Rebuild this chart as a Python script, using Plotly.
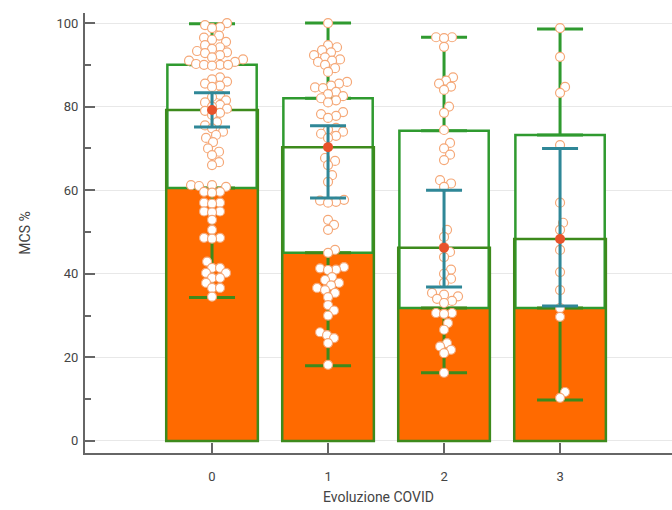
import plotly.graph_objects as go

categories = [0, 1, 2, 3]
tick_labels = ["0", "1", "2", "3"]

g0 = [100, 99.5, 99, 98.8, 97, 96.5, 96, 95.5, 94.7, 94.2, 93.8, 93.3, 93, 92.8, 92.3, 91.8, 91.3,
      91, 90.7, 90.2, 90, 90, 89.8, 90, 87, 86.5, 86, 85.5, 85, 84.7, 82.8, 82.3, 81.5, 81, 80.4,
      80, 79.5, 79, 78.5, 78, 76.3, 75.5, 74.8, 74, 73.2, 72.5, 71.5, 70, 69.2, 68.4, 66.7, 66,
      61.2, 61.2, 61, 60.8, 59.6, 59.6, 59.4, 57, 57, 56.8, 54.9, 54.9, 54.7, 52.9, 50.5, 48.6,
      48.6, 48.4, 42.9, 41.4, 41.4, 40.2, 40.2, 39, 39, 37.8, 36.6, 36.6, 34.5]
g1 = [100, 94.7, 94.2, 93.5, 93, 92.3, 91.8, 91.3, 91, 90.7, 90, 89.2, 88.3, 85.9, 85.5, 85, 84.6,
      84.4, 83.5, 83, 82.5, 82, 81.5, 81, 78.7, 78.2, 77.8, 77.3, 74.9, 74.5, 74, 73.5, 73, 72.5,
      67.7, 67, 66, 63.6, 62, 57.7, 57.5, 57.2, 57, 52.9, 51.7, 50.5, 45.7, 45, 41.6, 41.3, 41,
      40.9, 39.2, 38.5, 37.8, 37.2, 36.6, 36.1, 35.4, 34.4, 32.5, 31.2, 30, 26, 25.3, 24.6, 23.4, 18.2]
g2 = [96.6, 96.6, 96.4, 94.3, 87, 86.2, 85.5, 84.8, 84, 80, 78.5, 74.4, 71.3, 70, 68.5, 67.2, 62.4,
      61.6, 60.8, 50.5, 48.8, 46.4, 45.2, 44, 41, 40, 38.8, 37.8, 35.4, 35, 34.6, 34, 33.5, 33, 30.6,
      30.6, 30.4, 28.2, 26.6, 23.4, 22.6, 21.8, 21, 16.3]
g3 = [98.8, 91.9, 84.7, 83.3, 70.8, 57, 52.2, 50.5, 45.7, 40.4, 36.1, 31.8, 29.7, 11.7, 10.3]
groups = [g0, g1, g2, g3]

mean = [79.2, 70.3, 46.2, 48.3]
q1 = [60.5, 45.0, 31.8, 31.8]
q3 = [90.0, 82.0, 74.2, 73.2]
wmin = [34.3, 18.0, 16.3, 9.8]
wmax = [99.8, 100.0, 96.6, 98.6]
ci_lo = [75.1, 58.1, 36.8, 32.3]
ci_hi = [83.3, 75.4, 60.0, 70.0]

# pixel scale of the axes (used only for the beeswarm layout)
PX_X = 116.0
PX_Y = 4.18
DIAM = 7.5


def swarm(vals):
    placed = []
    offs = {}
    order = sorted(range(len(vals)), key=lambda i: vals[i])
    for i in order:
        y = vals[i] * PX_Y
        chosen = 0.0
        for step in range(0, 80):
            found = False
            for s in ([0] if step == 0 else [step, -step]):
                ok = all((s - px) ** 2 + (y - py) ** 2 >= DIAM ** 2 for px, py in placed)
                if ok:
                    chosen = s
                    found = True
                    break
            if found:
                break
        placed.append((chosen, y))
        offs[i] = chosen / PX_X
    return [offs[i] for i in range(len(vals))]


ORANGE = "#ff6a00"
GREEN_BAR = "#3d8a1c"
GREEN_BOX = "#2f9a2f"
TEAL = "#2f8797"
MEAN_COL = "#e8522a"
PT_EDGE = "#f5a878"

fig = go.Figure()

fig.add_trace(go.Bar(x=categories, y=mean, width=0.79, marker=dict(color=ORANGE, line=dict(width=0)),
                     hoverinfo="skip"))
fig.add_trace(go.Bar(x=categories, y=[b - a for a, b in zip(q1, q3)], base=q1, width=0.77,
                     marker=dict(color="white", line=dict(color=GREEN_BOX, width=2.5)), hoverinfo="skip"))
fig.add_trace(go.Bar(x=categories, y=mean, width=0.79,
                     marker=dict(color="rgba(0,0,0,0)", line=dict(color=GREEN_BAR, width=2.5)),
                     hoverinfo="skip"))

fig.add_trace(go.Scatter(x=categories, y=q3, mode="markers", marker=dict(size=1, color="rgba(0,0,0,0)"),
                         error_y=dict(type="data", symmetric=False, array=[b - a for a, b in zip(q3, wmax)],
                                      arrayminus=[0] * 4, color=GREEN_BOX, thickness=3, width=23),
                         hoverinfo="skip"))
fig.add_trace(go.Scatter(x=categories, y=q1, mode="markers", marker=dict(size=1, color="rgba(0,0,0,0)"),
                         error_y=dict(type="data", symmetric=False, array=[0] * 4,
                                      arrayminus=[a - b for a, b in zip(q1, wmin)],
                                      color=GREEN_BAR, thickness=3, width=23),
                         hoverinfo="skip"))

for c, g in zip(categories, groups):
    offs = swarm(g)
    fig.add_trace(go.Scatter(x=[c + o for o in offs], y=g, mode="markers",
                             marker=dict(size=9, color="white", line=dict(color=PT_EDGE, width=1.2))))

fig.add_trace(go.Scatter(x=categories, y=mean, mode="markers",
                         marker=dict(size=10, color=MEAN_COL),
                         error_y=dict(type="data", symmetric=False,
                                      array=[h - m for h, m in zip(ci_hi, mean)],
                                      arrayminus=[m - l for l, m in zip(ci_lo, mean)],
                                      color=TEAL, thickness=3, width=18)))

fig.update_layout(
    width=672, height=510,
    margin=dict(l=85, r=0, t=13, b=57),
    barmode="overlay",
    showlegend=False,
    plot_bgcolor="white", paper_bgcolor="white",
    font=dict(family="Roboto, Liberation Sans, sans-serif", size=13, color="#444"),
)
fig.update_xaxes(range=[-1.095, 3.965], tickvals=categories, ticktext=tick_labels,
                 showline=True, linecolor="#666", linewidth=2, ticks="inside", ticklen=10,
                 tickcolor="#666", tickwidth=2, showgrid=False, zeroline=False, ticklabelstandoff=10,
                 title=dict(text="Evoluzione COVID", font=dict(size=14, color="#444"), standoff=10))
fig.update_yaxes(range=[-2.9, 102.4], tickvals=[0, 20, 40, 60, 80, 100],
                 showline=True, linecolor="#666", linewidth=2, ticks="inside", ticklen=10,
                 tickcolor="#666", tickwidth=2, showgrid=True, gridcolor="#e8e8e8", gridwidth=1,
                 zeroline=False, ticklabelstandoff=2,
                 minor=dict(tickvals=[10, 30, 50, 70, 90], ticks="inside", ticklen=6,
                            tickcolor="#666", tickwidth=2, showgrid=False),
                 title=dict(text="MCS %", font=dict(size=14, color="#444"), standoff=23))

fig.write_html("out.html", config={"displayModeBar": False},
               post_script="document.body.style.margin='0';document.body.style.overflow='hidden';")
